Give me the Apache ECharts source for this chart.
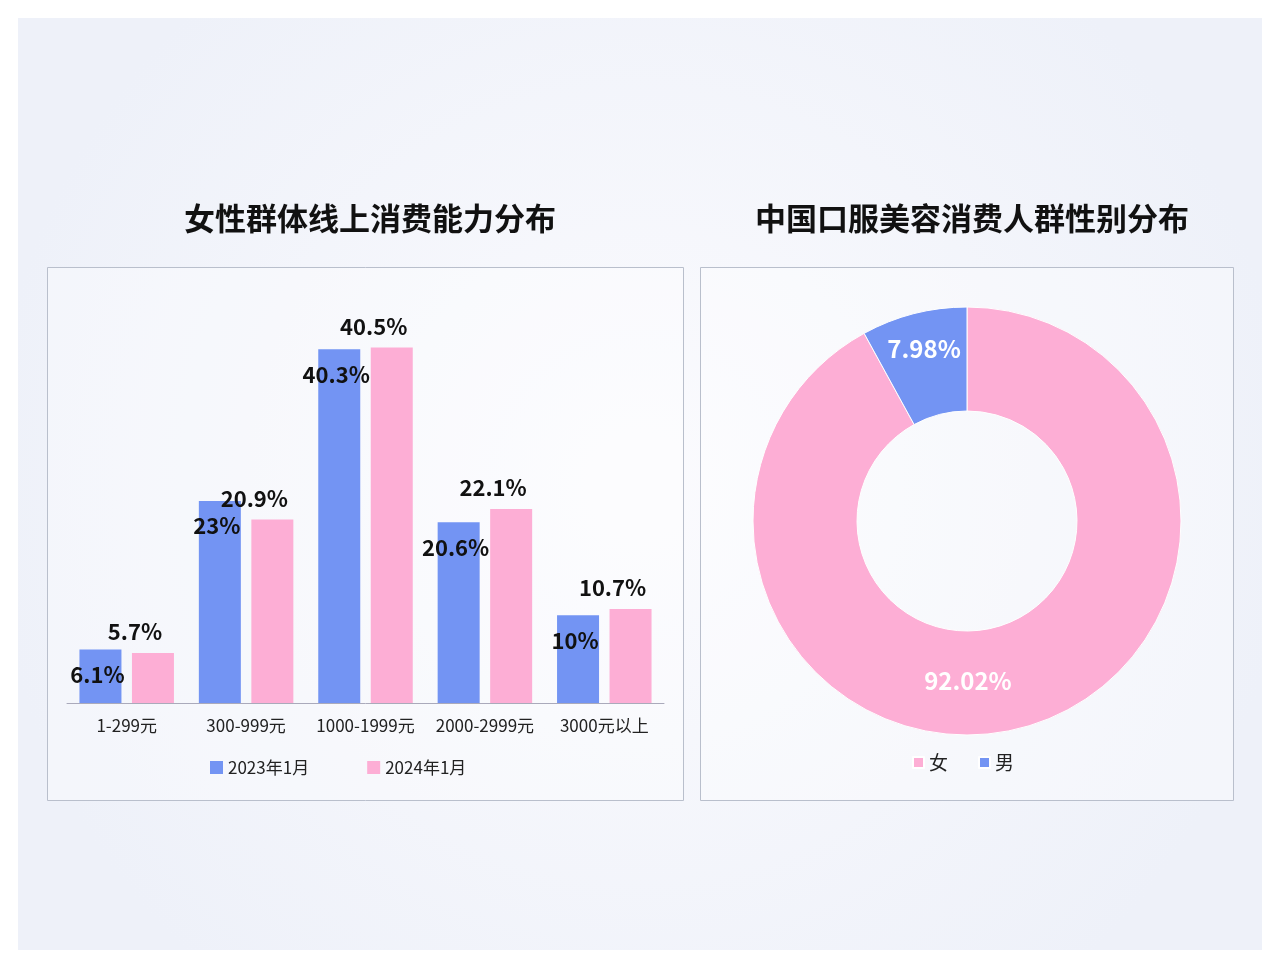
<!DOCTYPE html>
<html><head><meta charset="utf-8">
<script src="https://cdn.jsdelivr.net/npm/echarts@6/dist/echarts.min.js"></script>
<style>html,body{margin:0;padding:0;background:#fff}#c{width:1280px;height:969px}</style>
</head><body><div id="c"></div>
<script>
const categories=['1-299元','300-999元','1000-1999元','2000-2999元','3000元以上'];
const s2023=[6.1,23,40.3,20.6,10];
const s2024=[5.7,20.9,40.5,22.1,10.7];
const seriesNames=['2023年1月','2024年1月'];
const pieNames=['女','男'];
const pieValues=[92.02,7.98];
const F='"Noto Sans CJK SC","Noto Sans",sans-serif';
const chart=echarts.init(document.getElementById('c'));
chart.setOption({
  textStyle:{fontFamily:F},
  title:[
    {text:'女性群体线上消费能力分布',left:365,top:198,textAlign:'center',textStyle:{fontSize:31,fontWeight:'bold',color:'#111',fontFamily:F}},
    {text:'中国口服美容消费人群性别分布',left:967,top:198,textAlign:'center',textStyle:{fontSize:31,fontWeight:'bold',color:'#111',fontFamily:F}}
  ],
  graphic:[
    {type:'rect',z:-10,shape:{x:18,y:18,width:1244,height:932},style:{fill:new echarts.graphic.RadialGradient(0.5,0.5,0.7,[{offset:0,color:'#fbfbfe'},{offset:1,color:'#eef1f9'}])}},
    {type:'rect',z:-9,shape:{x:47.5,y:267.5,width:636,height:533},style:{fill:'rgba(255,255,255,0.35)',stroke:'#b9bfcc',lineWidth:1}},
    {type:'rect',z:-9,shape:{x:700.5,y:267.5,width:533,height:533},style:{fill:'rgba(255,255,255,0.35)',stroke:'#b9bfcc',lineWidth:1}}
  ],
  legend:[
    {data:seriesNames,left:205,top:754,itemWidth:13,itemHeight:13,itemGap:58,icon:'rect',textStyle:{fontSize:17,color:'#222',fontFamily:F}},
    {data:pieNames,left:907,top:748,itemWidth:11,itemHeight:11,itemGap:30,icon:'rect',textStyle:{fontSize:19,color:'#222',fontFamily:F}}
  ],
  grid:{left:67,top:308,width:597,height:395},
  xAxis:{type:'category',data:categories,axisTick:{show:false},axisLine:{lineStyle:{color:'#aab'}},
    axisLabel:{fontSize:17,color:'#222',margin:14,interval:0}},
  yAxis:{type:'value',min:0,max:45,show:false,splitLine:{show:false}},
  series:[
    {name:seriesNames[0],type:'bar',data:s2023,barWidth:42,barGap:'25%',itemStyle:{color:'#7394f3'},
     label:{show:true,position:'insideTop',distance:14,formatter:p=>p.value+'%',fontSize:22,fontWeight:'bold',color:'#111',offset:[-3,0]}},
    {name:seriesNames[1],type:'bar',data:s2024,barWidth:42,itemStyle:{color:'#fdaed5'},
     label:{show:true,position:'top',distance:10,formatter:p=>p.value+'%',fontSize:22,fontWeight:'bold',color:'#111',offset:[-18,0]}},
    {type:'pie',center:[967,521],radius:[110,214],startAngle:90,
     data:pieNames.map((n,i)=>({name:n,value:pieValues[i],itemStyle:{color:i?'#7394f3':'#fdaed5'},
       label:{offset:i?[-2,-12]:[-40,0]}})),
     itemStyle:{borderColor:'#fff',borderWidth:1},
     label:{show:true,position:'inside',formatter:p=>p.value+'%',fontSize:24,fontWeight:'bold',color:'#fff'},
     labelLine:{show:false}}
  ]
});
</script></body></html>
